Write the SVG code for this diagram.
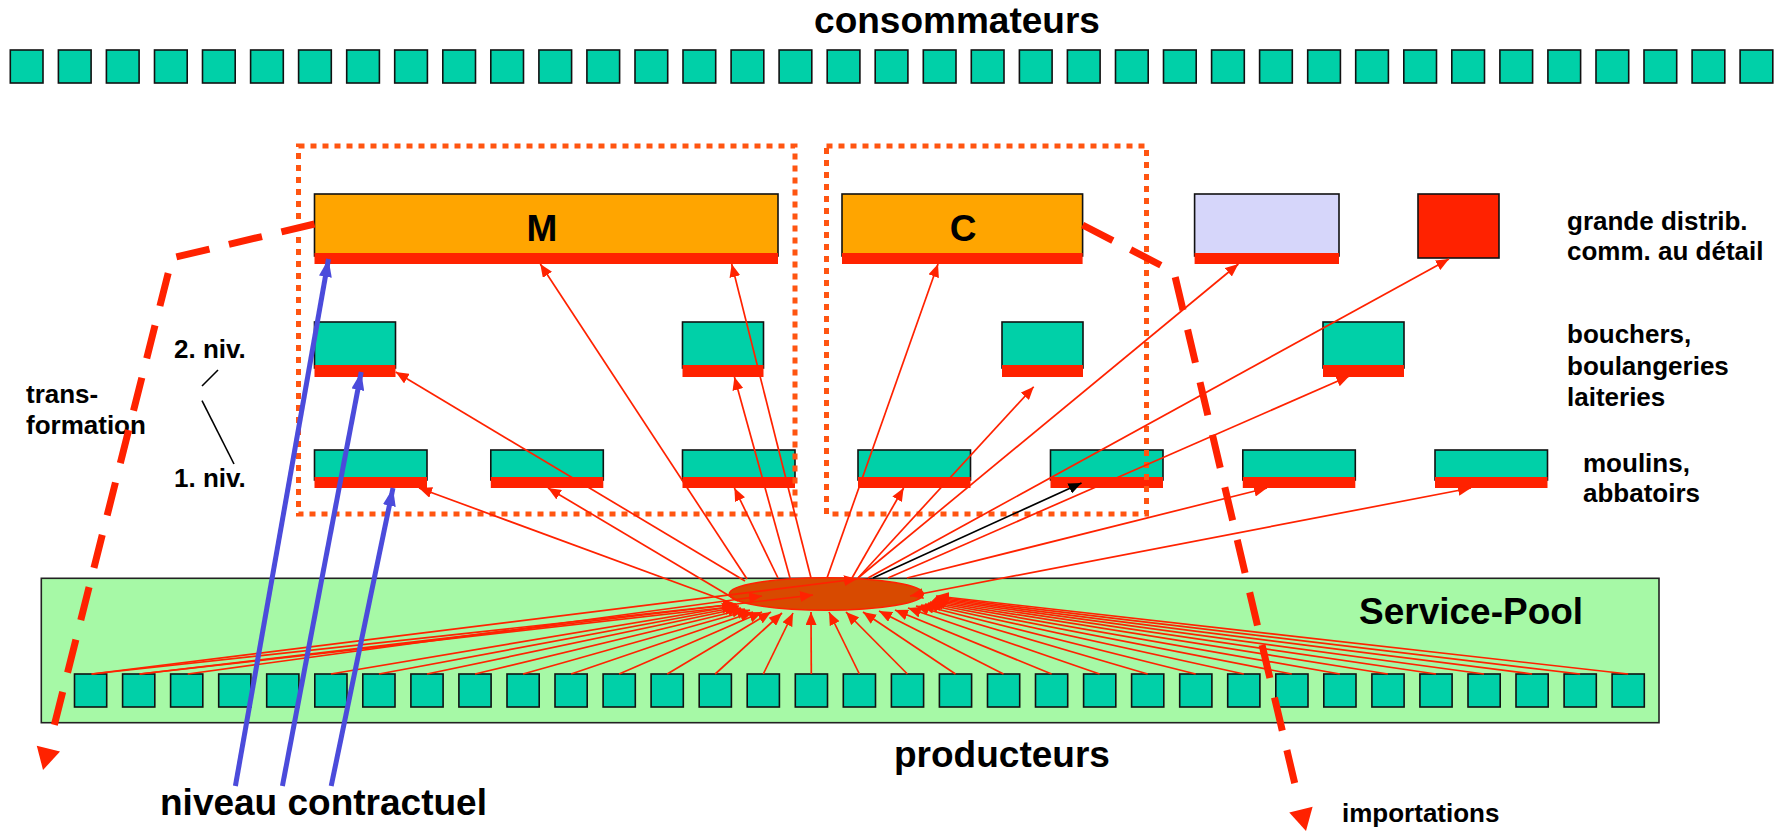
<svg xmlns="http://www.w3.org/2000/svg" width="1780" height="833" viewBox="0 0 1780 833">
<style>
.sq{fill:#00D0A8;stroke:#111;stroke-width:1.6}
.bx{stroke:#111;stroke-width:1.6}
.strip{fill:#FF2200}
.frame{fill:none;stroke:#FF5511;stroke-width:5;stroke-dasharray:6 6}
.rl{fill:none;stroke:#FF2200;stroke-width:1.7;marker-end:url(#ah)}
.bl{fill:none;stroke:#4B4BDB;stroke-width:5;marker-end:url(#ahb)}
.dl{fill:none;stroke:#FF2200;stroke-width:7;stroke-dasharray:34 20;marker-end:url(#ahd)}
text{font-family:"Liberation Sans",Arial,sans-serif;font-weight:bold;fill:#000}
.big{font-size:37px}
.sm{font-size:26px}
</style>
<defs>
<marker id="ah" markerUnits="userSpaceOnUse" markerWidth="14" markerHeight="11" refX="13" refY="5.5" orient="auto"><path d="M0,0 L13,5.5 L0,11 z" fill="#FF2200"/></marker>
<marker id="ahs" markerUnits="userSpaceOnUse" markerWidth="14" markerHeight="11" refX="13" refY="5.5" orient="auto-start-reverse"><path d="M0,0 L13,5.5 L0,11 z" fill="#FF2200"/></marker>
<marker id="ahk" markerUnits="userSpaceOnUse" markerWidth="14" markerHeight="11" refX="13" refY="5.5" orient="auto"><path d="M0,0 L13,5.5 L0,11 z" fill="#000"/></marker>
<marker id="ahb" markerUnits="userSpaceOnUse" markerWidth="19" markerHeight="13" refX="18" refY="6.5" orient="auto"><path d="M0,0 L18,6.5 L0,13 z" fill="#4B4BDB"/></marker>
<marker id="ahd" markerUnits="userSpaceOnUse" markerWidth="42" markerHeight="24" refX="0" refY="12" orient="auto" overflow="visible"><path d="M18,0 L40,12 L18,24 z" fill="#FF2200"/></marker>
</defs>
<rect width="1780" height="833" fill="#fff"/>

<g id="service-pool"><rect x="41.3" y="578.3" width="1617.7" height="144.4" fill="#A6F9A6" stroke="#222" stroke-width="1.6"/></g>

<g id="consumers">
<g id="cons-01"><rect class="sq" x="10.3" y="50" width="32.7" height="33"/></g>
<g id="cons-02"><rect class="sq" x="58.4" y="50" width="32.7" height="33"/></g>
<g id="cons-03"><rect class="sq" x="106.4" y="50" width="32.7" height="33"/></g>
<g id="cons-04"><rect class="sq" x="154.5" y="50" width="32.7" height="33"/></g>
<g id="cons-05"><rect class="sq" x="202.5" y="50" width="32.7" height="33"/></g>
<g id="cons-06"><rect class="sq" x="250.6" y="50" width="32.7" height="33"/></g>
<g id="cons-07"><rect class="sq" x="298.6" y="50" width="32.7" height="33"/></g>
<g id="cons-08"><rect class="sq" x="346.7" y="50" width="32.7" height="33"/></g>
<g id="cons-09"><rect class="sq" x="394.7" y="50" width="32.7" height="33"/></g>
<g id="cons-10"><rect class="sq" x="442.8" y="50" width="32.7" height="33"/></g>
<g id="cons-11"><rect class="sq" x="490.8" y="50" width="32.7" height="33"/></g>
<g id="cons-12"><rect class="sq" x="538.9" y="50" width="32.7" height="33"/></g>
<g id="cons-13"><rect class="sq" x="586.9" y="50" width="32.7" height="33"/></g>
<g id="cons-14"><rect class="sq" x="635.0" y="50" width="32.7" height="33"/></g>
<g id="cons-15"><rect class="sq" x="683.0" y="50" width="32.7" height="33"/></g>
<g id="cons-16"><rect class="sq" x="731.1" y="50" width="32.7" height="33"/></g>
<g id="cons-17"><rect class="sq" x="779.1" y="50" width="32.7" height="33"/></g>
<g id="cons-18"><rect class="sq" x="827.2" y="50" width="32.7" height="33"/></g>
<g id="cons-19"><rect class="sq" x="875.2" y="50" width="32.7" height="33"/></g>
<g id="cons-20"><rect class="sq" x="923.3" y="50" width="32.7" height="33"/></g>
<g id="cons-21"><rect class="sq" x="971.3" y="50" width="32.7" height="33"/></g>
<g id="cons-22"><rect class="sq" x="1019.4" y="50" width="32.7" height="33"/></g>
<g id="cons-23"><rect class="sq" x="1067.4" y="50" width="32.7" height="33"/></g>
<g id="cons-24"><rect class="sq" x="1115.5" y="50" width="32.7" height="33"/></g>
<g id="cons-25"><rect class="sq" x="1163.5" y="50" width="32.7" height="33"/></g>
<g id="cons-26"><rect class="sq" x="1211.6" y="50" width="32.7" height="33"/></g>
<g id="cons-27"><rect class="sq" x="1259.6" y="50" width="32.7" height="33"/></g>
<g id="cons-28"><rect class="sq" x="1307.7" y="50" width="32.7" height="33"/></g>
<g id="cons-29"><rect class="sq" x="1355.7" y="50" width="32.7" height="33"/></g>
<g id="cons-30"><rect class="sq" x="1403.8" y="50" width="32.7" height="33"/></g>
<g id="cons-31"><rect class="sq" x="1451.8" y="50" width="32.7" height="33"/></g>
<g id="cons-32"><rect class="sq" x="1499.9" y="50" width="32.7" height="33"/></g>
<g id="cons-33"><rect class="sq" x="1547.9" y="50" width="32.7" height="33"/></g>
<g id="cons-34"><rect class="sq" x="1596.0" y="50" width="32.7" height="33"/></g>
<g id="cons-35"><rect class="sq" x="1644.0" y="50" width="32.7" height="33"/></g>
<g id="cons-36"><rect class="sq" x="1692.1" y="50" width="32.7" height="33"/></g>
<g id="cons-37"><rect class="sq" x="1740.1" y="50" width="32.7" height="33"/></g>
</g>

<g id="producers">
<g id="prod-01"><rect class="sq" x="74.5" y="674" width="32.2" height="33"/></g>
<g id="prod-02"><rect class="sq" x="122.6" y="674" width="32.2" height="33"/></g>
<g id="prod-03"><rect class="sq" x="170.6" y="674" width="32.2" height="33"/></g>
<g id="prod-04"><rect class="sq" x="218.7" y="674" width="32.2" height="33"/></g>
<g id="prod-05"><rect class="sq" x="266.7" y="674" width="32.2" height="33"/></g>
<g id="prod-06"><rect class="sq" x="314.8" y="674" width="32.2" height="33"/></g>
<g id="prod-07"><rect class="sq" x="362.8" y="674" width="32.2" height="33"/></g>
<g id="prod-08"><rect class="sq" x="410.9" y="674" width="32.2" height="33"/></g>
<g id="prod-09"><rect class="sq" x="458.9" y="674" width="32.2" height="33"/></g>
<g id="prod-10"><rect class="sq" x="507.0" y="674" width="32.2" height="33"/></g>
<g id="prod-11"><rect class="sq" x="555.0" y="674" width="32.2" height="33"/></g>
<g id="prod-12"><rect class="sq" x="603.1" y="674" width="32.2" height="33"/></g>
<g id="prod-13"><rect class="sq" x="651.1" y="674" width="32.2" height="33"/></g>
<g id="prod-14"><rect class="sq" x="699.2" y="674" width="32.2" height="33"/></g>
<g id="prod-15"><rect class="sq" x="747.2" y="674" width="32.2" height="33"/></g>
<g id="prod-16"><rect class="sq" x="795.3" y="674" width="32.2" height="33"/></g>
<g id="prod-17"><rect class="sq" x="843.3" y="674" width="32.2" height="33"/></g>
<g id="prod-18"><rect class="sq" x="891.4" y="674" width="32.2" height="33"/></g>
<g id="prod-19"><rect class="sq" x="939.4" y="674" width="32.2" height="33"/></g>
<g id="prod-20"><rect class="sq" x="987.5" y="674" width="32.2" height="33"/></g>
<g id="prod-21"><rect class="sq" x="1035.5" y="674" width="32.2" height="33"/></g>
<g id="prod-22"><rect class="sq" x="1083.6" y="674" width="32.2" height="33"/></g>
<g id="prod-23"><rect class="sq" x="1131.6" y="674" width="32.2" height="33"/></g>
<g id="prod-24"><rect class="sq" x="1179.7" y="674" width="32.2" height="33"/></g>
<g id="prod-25"><rect class="sq" x="1227.7" y="674" width="32.2" height="33"/></g>
<g id="prod-26"><rect class="sq" x="1275.8" y="674" width="32.2" height="33"/></g>
<g id="prod-27"><rect class="sq" x="1323.8" y="674" width="32.2" height="33"/></g>
<g id="prod-28"><rect class="sq" x="1371.9" y="674" width="32.2" height="33"/></g>
<g id="prod-29"><rect class="sq" x="1419.9" y="674" width="32.2" height="33"/></g>
<g id="prod-30"><rect class="sq" x="1468.0" y="674" width="32.2" height="33"/></g>
<g id="prod-31"><rect class="sq" x="1516.0" y="674" width="32.2" height="33"/></g>
<g id="prod-32"><rect class="sq" x="1564.1" y="674" width="32.2" height="33"/></g>
<g id="prod-33"><rect class="sq" x="1612.1" y="674" width="32.2" height="33"/></g>
</g>

<g id="hub"><ellipse cx="826.3" cy="594" rx="97" ry="16.3" fill="#D84A00" stroke="#FF2200" stroke-width="1.6"/></g>

<g id="box-M"><rect class="bx" x="314.5" y="194" width="463.5" height="62" fill="#FFA500"/><rect class="strip" x="314.5" y="253" width="463.5" height="11"/><text class="big" x="542" y="241" text-anchor="middle">M</text></g>
<g id="box-C"><rect class="bx" x="842" y="194" width="240.6" height="62" fill="#FFA500"/><rect class="strip" x="842" y="253" width="240.6" height="11"/><text class="big" x="963" y="241" text-anchor="middle">C</text></g>
<g id="box-grande"><rect class="bx" x="1194.6" y="194" width="144.4" height="62" fill="#D6D6FA"/><rect class="strip" x="1194.6" y="253" width="144.4" height="11"/></g>
<g id="box-detail"><rect class="bx" x="1418" y="194" width="81" height="64" fill="#FF2200"/></g>

<g id="l2-1"><rect class="bx" x="314.5" y="322" width="81" height="46" fill="#00D0A8"/><rect class="strip" x="314.5" y="365" width="81" height="12"/></g>
<g id="l2-2"><rect class="bx" x="682.5" y="322" width="81" height="46" fill="#00D0A8"/><rect class="strip" x="682.5" y="365" width="81" height="12"/></g>
<g id="l2-3"><rect class="bx" x="1002" y="322" width="81" height="46" fill="#00D0A8"/><rect class="strip" x="1002" y="365" width="81" height="12"/></g>
<g id="l2-4"><rect class="bx" x="1323" y="322" width="81" height="46" fill="#00D0A8"/><rect class="strip" x="1323" y="365" width="81" height="12"/></g>

<g id="l1-1"><rect class="bx" x="314.5" y="450" width="112.5" height="30" fill="#00D0A8"/><rect class="strip" x="314.5" y="477" width="112.5" height="11"/></g>
<g id="l1-2"><rect class="bx" x="490.8" y="450" width="112.5" height="30" fill="#00D0A8"/><rect class="strip" x="490.8" y="477" width="112.5" height="11"/></g>
<g id="l1-3"><rect class="bx" x="682.5" y="450" width="112.5" height="30" fill="#00D0A8"/><rect class="strip" x="682.5" y="477" width="112.5" height="11"/></g>
<g id="l1-4"><rect class="bx" x="858" y="450" width="112.5" height="30" fill="#00D0A8"/><rect class="strip" x="858" y="477" width="112.5" height="11"/></g>
<g id="l1-5"><rect class="bx" x="1050.5" y="450" width="112.5" height="30" fill="#00D0A8"/><rect class="strip" x="1050.5" y="477" width="112.5" height="11"/></g>
<g id="l1-6"><rect class="bx" x="1242.8" y="450" width="112.5" height="30" fill="#00D0A8"/><rect class="strip" x="1242.8" y="477" width="112.5" height="11"/></g>
<g id="l1-7"><rect class="bx" x="1435" y="450" width="112.5" height="30" fill="#00D0A8"/><rect class="strip" x="1435" y="477" width="112.5" height="11"/></g>

<g id="frame-M"><rect class="frame" x="298.5" y="146" width="496.5" height="368"/></g>
<g id="frame-C"><rect class="frame" x="826.5" y="146" width="320" height="368"/></g>

<g id="labels">
<text class="big" x="957" y="33" text-anchor="middle">consommateurs</text>
<text class="sm" x="1567" y="230">grande distrib.</text>
<text class="sm" x="1567" y="260">comm. au détail</text>
<text class="sm" x="1567" y="343">bouchers,</text>
<text class="sm" x="1567" y="375">boulangeries</text>
<text class="sm" x="1567" y="406">laiteries</text>
<text class="sm" x="1583" y="472">moulins,</text>
<text class="sm" x="1583" y="502">abbatoirs</text>
<text class="sm" x="174" y="358">2. niv.</text>
<text class="sm" x="174" y="487">1. niv.</text>
<text class="sm" x="26" y="403">trans-</text>
<text class="sm" x="26" y="434">formation</text>
<text class="big" x="1359" y="624">Service-Pool</text>
<text class="big" x="894" y="767">producteurs</text>
<text class="big" x="160" y="815">niveau contractuel</text>
<text class="sm" x="1342" y="822">importations</text>
</g>

<g id="connectors">
<line x1="218" y1="370" x2="202" y2="386" stroke="#000" stroke-width="1.6"/>
<line x1="202" y1="400.7" x2="234" y2="464" stroke="#000" stroke-width="1.6"/>

<path class="rl" d="M91.6,674 L857,579"/>
<path class="rl" d="M139.6,674 L813,595"/>
<path class="rl" d="M187.7,674 L762,596"/>
<path class="rl" d="M91.6,674 L736,604"/>
<path class="rl" d="M139.6,674 L739,606"/>
<path class="rl" d="M330.8,674 L735,606"/>
<path class="rl" d="M378.9,674 L738,607"/>
<path class="rl" d="M427,674 L741,608"/>
<path class="rl" d="M475,674 L745,609"/>
<path class="rl" d="M523,674 L750,610"/>
<path class="rl" d="M571.1,674 L753,612"/>
<path class="rl" d="M619.1,674 L762,612"/>
<path class="rl" d="M667.2,674 L771,612"/>
<path class="rl" d="M715.2,674 L782,613"/>
<path class="rl" d="M763.3,674 L793,613"/>
<path class="rl" d="M811.3,674 L811,612"/>
<path class="rl" d="M859.4,674 L829,612"/>
<path class="rl" d="M907.4,674 L846,612"/>
<path class="rl" d="M955.5,674 L863,612"/>
<path class="rl" d="M1003.5,674 L879,611"/>
<path class="rl" d="M1051.6,674 L895,610"/>
<path class="rl" d="M1099.6,674 L908,608"/>
<path class="rl" d="M1147.7,674 L916,606"/>
<path class="rl" d="M1195.7,674 L921,605"/>
<path class="rl" d="M1243.8,674 L925,604"/>
<path class="rl" d="M1291.8,674 L928,603"/>
<path class="rl" d="M1339.9,674 L930,602"/>
<path class="rl" d="M1387.9,674 L932,601"/>
<path class="rl" d="M1436,674 L933,600"/>
<path class="rl" d="M1484,674 L934,599"/>
<path class="rl" d="M1532.1,674 L935,598"/>
<path class="rl" d="M1580.1,674 L936,597"/>
<path class="rl" d="M1628.2,674 L936,596"/>

<path class="rl" d="M747,579 L540.3,264"/>
<path class="rl" d="M811,578 L731.7,264"/>
<path class="rl" d="M827,578 L938,264"/>
<path class="rl" d="M858,578 L1238.4,264"/>
<path class="rl" d="M868,578 L1449,259"/>
<path class="rl" d="M745,581 L395.7,372"/>
<path class="rl" d="M790,578 L734.4,377"/>
<path class="rl" d="M858,578 L1033.7,386.7"/>
<path class="rl" d="M888,578 L1349.4,376"/>
<path class="rl" d="M737,605 L419,488"/>
<path class="rl" d="M738,601 L548,488"/>
<path class="rl" d="M778,578 L734.4,488"/>
<path class="rl" d="M852,578 L903.6,488"/>
<path class="rl" d="M907,578 L1267,488"/>
<path class="rl" d="M910,596 L1471,488" style="marker-start:url(#ahs)"/>
<path d="M873,578 L1081.5,483" fill="none" stroke="#000" stroke-width="1.7" marker-end="url(#ahk)"/>

<path class="bl" d="M235.4,786 L328.5,259"/>
<path class="bl" d="M282.4,786 L361.2,372"/>
<path class="bl" d="M331.2,786 L393,488"/>

<path class="dl" d="M314.5,224 L172,258 L52.8,731.2"/>
<path class="dl" d="M1082.6,225 L1174,272 L1296.8,792.1"/>
</g>
</svg>
